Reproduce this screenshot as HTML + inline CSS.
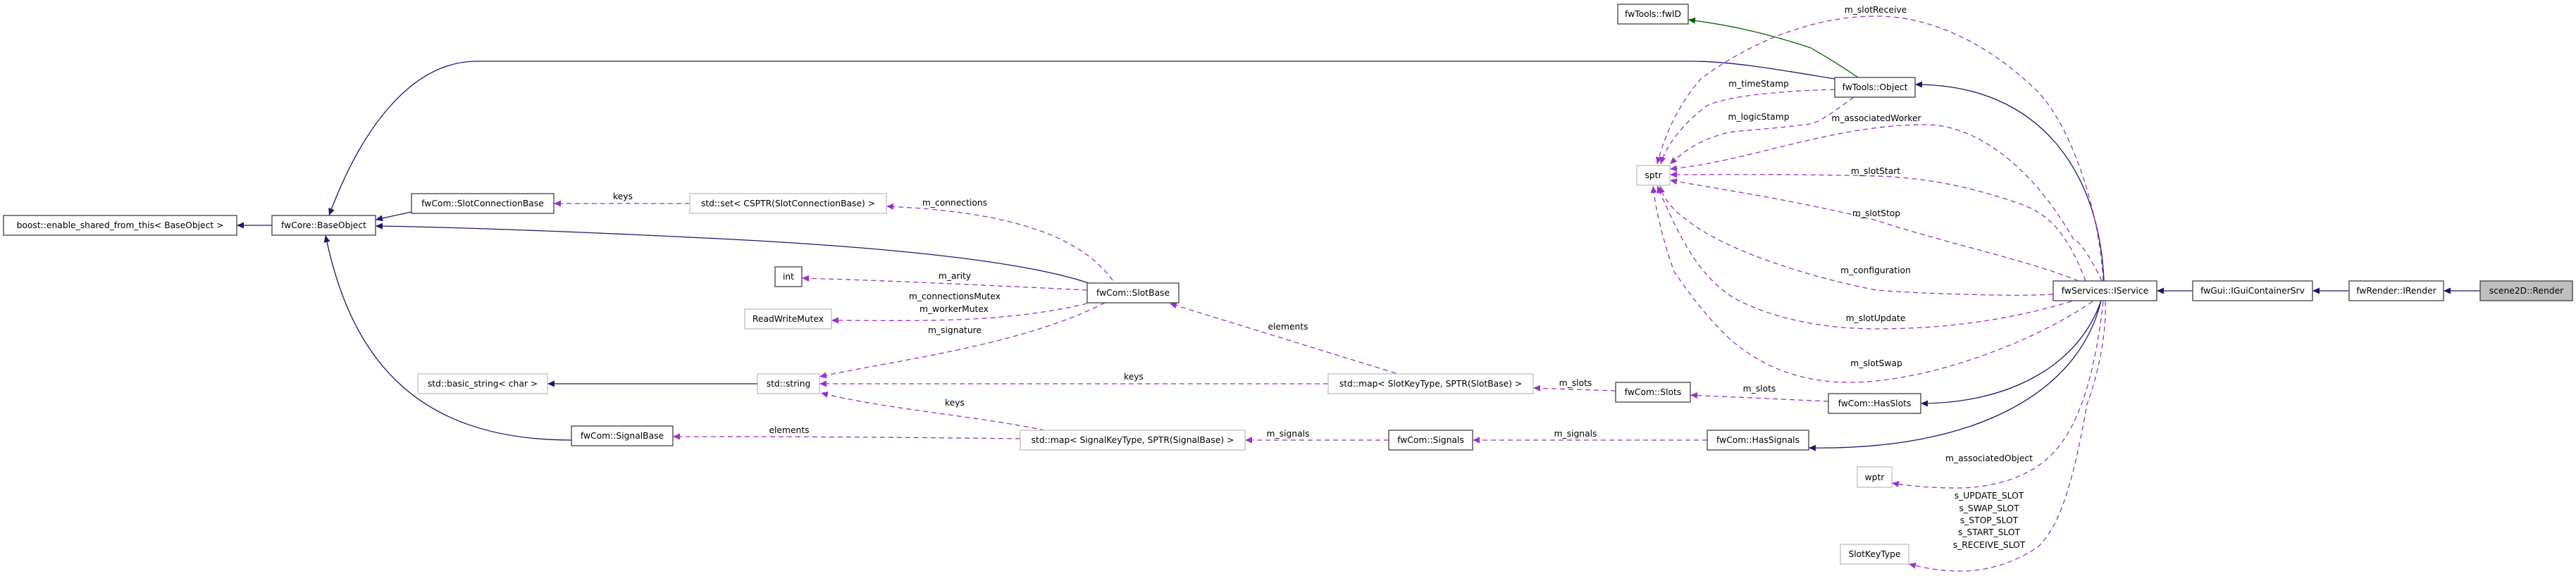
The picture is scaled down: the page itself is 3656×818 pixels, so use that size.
<!DOCTYPE html>
<html><head><meta charset="utf-8"><style>
html,body{margin:0;padding:0;background:#fff;}
svg{display:block;}
text{font-family:"DejaVu Sans","Liberation Sans",sans-serif;font-size:12.3px;fill:#000;}
.n{fill:#fff;stroke:#404040;stroke-width:1.3;}
.g{fill:#fff;stroke:#bfbfbf;stroke-width:1.3;}
.h{fill:#bfbfbf;stroke:#404040;stroke-width:1.3;}
.i{fill:none;stroke:#191970;stroke-width:1.3;}
.gr{fill:none;stroke:#006400;stroke-width:1.3;}
.d{fill:none;stroke:#9a32cd;stroke-width:1.3;stroke-dasharray:7,5;}
</style></head><body>
<svg width="3656" height="818" viewBox="0 0 3656 818" xmlns="http://www.w3.org/2000/svg">
<defs>
<marker id="an" markerWidth="11" markerHeight="9" refX="10" refY="4.5" orient="auto" markerUnits="userSpaceOnUse"><path d="M0,0 L10,4.5 L0,9 z" fill="#191970"/></marker>
<marker id="ap" markerWidth="11" markerHeight="9" refX="10" refY="4.5" orient="auto" markerUnits="userSpaceOnUse"><path d="M0,0 L10,4.5 L0,9 z" fill="#9a32cd"/></marker>
<marker id="ag" markerWidth="11" markerHeight="9" refX="10" refY="4.5" orient="auto" markerUnits="userSpaceOnUse"><path d="M0,0 L10,4.5 L0,9 z" fill="#006400"/></marker>
</defs>

<!-- inheritance edges -->
<path class="i" marker-end="url(#an)" d="M386,320 L336,320"/>
<path class="i" marker-end="url(#an)" d="M584,301 L533,312"/>
<path class="i" marker-end="url(#an)" d="M1545,402 C1450,370 1250,350 1000,338 C800,328 620,322 533,321"/>
<path class="i" marker-end="url(#an)" d="M2604,112 C2530,100 2460,87 2400,87 L677,87 C580,87 510,190 467,306"/>
<path class="i" marker-end="url(#an)" d="M811,625 C600,625 500,520 462,334"/>
<path class="i" marker-end="url(#an)" d="M1075,545 L777,545"/>
<path class="gr" marker-end="url(#ag)" d="M2637,110 C2600,85 2590,80 2570,68 C2500,45 2450,35 2396,28"/>
<path class="i" marker-end="url(#an)" d="M2986,399 C2980,250 2900,120 2718,120"/>
<path class="i" marker-end="url(#an)" d="M2982,427 C2950,520 2850,573 2726,573"/>
<path class="i" marker-end="url(#an)" d="M2982,427 C2950,560 2800,640 2567,636"/>
<path class="i" marker-end="url(#an)" d="M3112,413 L3061,413"/>
<path class="i" marker-end="url(#an)" d="M3334,413 L3282,413"/>
<path class="i" marker-end="url(#an)" d="M3520,413 L3468,413"/>

<!-- dashed member edges -->
<path class="d" marker-end="url(#ap)" d="M979,289 L786,289"/>
<path class="d" marker-end="url(#ap)" d="M1579,398 C1530,330 1420,300 1258,293"/>
<path class="d" marker-end="url(#ap)" d="M1543,412 C1400,405 1250,398 1138,395"/>
<path class="d" marker-end="url(#ap)" d="M1543,431 C1420,460 1300,455 1180,455"/>
<path class="d" marker-end="url(#ap)" d="M1568,430 C1450,490 1280,510 1163,535"/>
<path class="d" marker-end="url(#ap)" d="M1885,545 L1163,545"/>
<path class="d" marker-end="url(#ap)" d="M1981,530 L1660,431"/>
<path class="d" marker-end="url(#ap)" d="M1483,611 C1380,590 1250,580 1165,558"/>
<path class="d" marker-end="url(#ap)" d="M1448,623 C1200,620 1050,620 955,620"/>
<path class="d" marker-end="url(#ap)" d="M1971,625 L1767,625"/>
<path class="d" marker-end="url(#ap)" d="M2293,555 L2176,551"/>
<path class="d" marker-end="url(#ap)" d="M2595,570 L2399,561"/>
<path class="d" marker-end="url(#ap)" d="M2423,625 L2090,625"/>
<path class="d" marker-end="url(#ap)" d="M2604,127 C2500,130 2440,140 2421,151 C2390,175 2365,205 2357,233"/>
<path class="d" marker-end="url(#ap)" d="M2631,138 C2600,160 2580,177 2561,177 C2500,185 2460,185 2446,190 C2410,200 2390,215 2370,233"/>
<path class="d" marker-end="url(#ap)" d="M2985,399 C2980,300 2940,180 2892,130 C2820,60 2740,23 2663,23 C2560,23 2470,70 2414,112 C2380,150 2360,200 2352,233"/>
<path class="d" marker-end="url(#ap)" d="M2983,399 C2970,370 2950,340 2943,340 C2880,230 2800,177 2733,177 C2600,177 2480,230 2370,240"/>
<path class="d" marker-end="url(#ap)" d="M2960,399 C2930,320 2900,300 2860,287 C2780,260 2720,252 2663,250 C2550,247 2460,248 2370,248"/>
<path class="d" marker-end="url(#ap)" d="M2950,399 C2880,370 2760,345 2663,313 C2550,285 2450,270 2370,256"/>
<path class="d" marker-end="url(#ap)" d="M2914,418 C2870,420 2850,419 2829,419 C2740,417 2700,415 2663,412 C2550,390 2440,350 2395,313 C2370,295 2360,280 2356,264"/>
<path class="d" marker-end="url(#ap)" d="M2940,428 C2850,455 2760,467 2663,467 C2560,467 2490,440 2459,422 C2410,390 2385,340 2352,264"/>
<path class="d" marker-end="url(#ap)" d="M2970,428 C2880,490 2730,543 2625,543 C2540,543 2490,510 2459,485 C2410,440 2380,390 2376,386 C2360,340 2350,300 2346,264"/>
<path class="d" marker-end="url(#ap)" d="M2985,428 C2970,560 2940,630 2892,662 C2850,690 2800,693 2778,693 C2740,693 2710,690 2685,686"/>
<path class="d" marker-end="url(#ap)" d="M2988,428 C2990,480 2975,540 2962,574 C2940,700 2920,750 2892,777 C2850,805 2810,811 2784,811 C2750,811 2730,806 2709,801"/>

<!-- nodes -->
<rect class="n" x="5" y="306" width="331" height="28"/><text x="170.5" y="324" text-anchor="middle">boost::enable_shared_from_this&lt; BaseObject &gt;</text>
<rect class="n" x="386" y="306" width="147" height="28"/><text x="459.5" y="324" text-anchor="middle">fwCore::BaseObject</text>
<rect class="n" x="584" y="275" width="202" height="28"/><text x="685" y="293" text-anchor="middle">fwCom::SlotConnectionBase</text>
<rect class="g" x="979" y="275" width="279" height="28"/><text x="1118.5" y="293" text-anchor="middle">std::set&lt; CSPTR(SlotConnectionBase) &gt;</text>
<rect class="n" x="1100" y="379" width="38" height="28"/><text x="1119" y="397" text-anchor="middle">int</text>
<rect class="g" x="1057" y="439" width="123" height="28"/><text x="1118.5" y="457" text-anchor="middle">ReadWriteMutex</text>
<rect class="n" x="1543" y="402" width="130" height="28"/><text x="1608" y="420" text-anchor="middle">fwCom::SlotBase</text>
<rect class="g" x="593" y="531" width="184" height="28"/><text x="685" y="549" text-anchor="middle">std::basic_string&lt; char &gt;</text>
<rect class="g" x="1075" y="531" width="88" height="28"/><text x="1119" y="549" text-anchor="middle">std::string</text>
<rect class="n" x="811" y="605" width="144" height="28"/><text x="883" y="623" text-anchor="middle">fwCom::SignalBase</text>
<rect class="g" x="1885" y="531" width="291" height="28"/><text x="2030.5" y="549" text-anchor="middle">std::map&lt; SlotKeyType, SPTR(SlotBase) &gt;</text>
<rect class="g" x="1448" y="611" width="319" height="28"/><text x="1607.5" y="629" text-anchor="middle">std::map&lt; SignalKeyType, SPTR(SignalBase) &gt;</text>
<rect class="n" x="1971" y="611" width="119" height="28"/><text x="2030.5" y="629" text-anchor="middle">fwCom::Signals</text>
<rect class="n" x="2293" y="543" width="106" height="28"/><text x="2346" y="561" text-anchor="middle">fwCom::Slots</text>
<rect class="n" x="2595" y="559" width="131" height="28"/><text x="2660.5" y="577" text-anchor="middle">fwCom::HasSlots</text>
<rect class="n" x="2423" y="611" width="144" height="28"/><text x="2495" y="629" text-anchor="middle">fwCom::HasSignals</text>
<rect class="n" x="2296" y="6" width="100" height="28"/><text x="2346" y="24" text-anchor="middle">fwTools::fwID</text>
<rect class="n" x="2604" y="110" width="114" height="28"/><text x="2661" y="128" text-anchor="middle">fwTools::Object</text>
<rect class="g" x="2323" y="235" width="47" height="28"/><text x="2346.5" y="253" text-anchor="middle">sptr</text>
<rect class="g" x="2636" y="663" width="49" height="29"/><text x="2660.5" y="682" text-anchor="middle">wptr</text>
<rect class="g" x="2612" y="773" width="97" height="28"/><text x="2660.5" y="791" text-anchor="middle">SlotKeyType</text>
<rect class="n" x="2914" y="399" width="147" height="28"/><text x="2987.5" y="417" text-anchor="middle">fwServices::IService</text>
<rect class="n" x="3112" y="399" width="170" height="28"/><text x="3197" y="417" text-anchor="middle">fwGui::IGuiContainerSrv</text>
<rect class="n" x="3334" y="399" width="134" height="28"/><text x="3401" y="417" text-anchor="middle">fwRender::IRender</text>
<rect class="h" x="3520" y="399" width="131" height="28"/><text x="3585.5" y="417" text-anchor="middle">scene2D::Render</text>

<!-- labels -->
<g text-anchor="middle">
<text x="884" y="283">keys</text>
<text x="1355" y="292">m_connections</text>
<text x="1355" y="396">m_arity</text>
<text x="1355" y="425">m_connectionsMutex</text>
<text x="1354" y="443">m_workerMutex</text>
<text x="1355" y="473">m_signature</text>
<text x="1828" y="468">elements</text>
<text x="1609" y="539">keys</text>
<text x="1355" y="576">keys</text>
<text x="1120" y="615">elements</text>
<text x="1828" y="620">m_signals</text>
<text x="2662" y="18">m_slotReceive</text>
<text x="2496" y="123">m_timeStamp</text>
<text x="2496" y="170">m_logicStamp</text>
<text x="2663" y="172">m_associatedWorker</text>
<text x="2662" y="247">m_slotStart</text>
<text x="2663" y="307">m_slotStop</text>
<text x="2662" y="388">m_configuration</text>
<text x="2662" y="456">m_slotUpdate</text>
<text x="2663" y="520">m_slotSwap</text>
<text x="2236" y="548">m_slots</text>
<text x="2497" y="556">m_slots</text>
<text x="2236" y="620">m_signals</text>
<text x="2823" y="655">m_associatedObject</text>
<text x="2823" y="708">s_UPDATE_SLOT</text>
<text x="2823" y="726">s_SWAP_SLOT</text>
<text x="2823" y="743">s_STOP_SLOT</text>
<text x="2823" y="760">s_START_SLOT</text>
<text x="2823" y="778">s_RECEIVE_SLOT</text>
</g>
</svg>
</body></html>
